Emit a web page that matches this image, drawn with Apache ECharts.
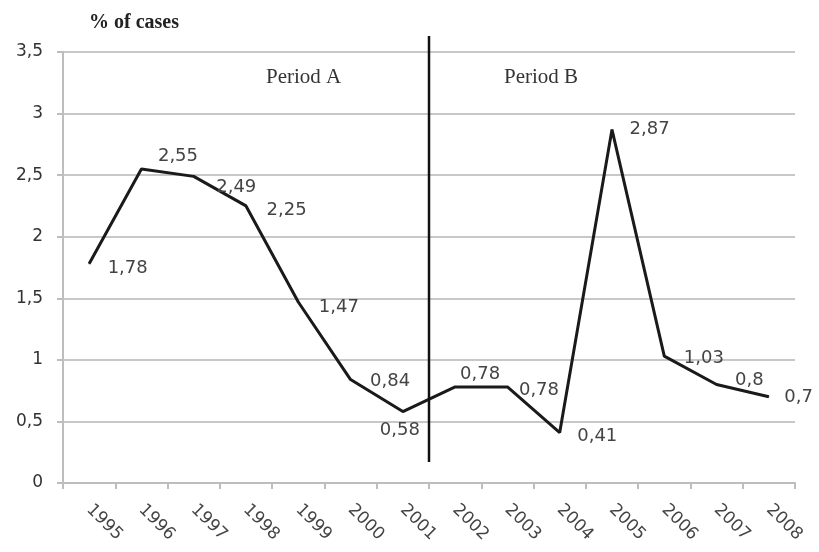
<!DOCTYPE html>
<html>
<head>
<meta charset="utf-8">
<script src="https://cdn.jsdelivr.net/npm/echarts@6/dist/echarts.min.js"></script>
<style>
  html, body { margin: 0; padding: 0; background: #ffffff; }
  #chart { width: 819px; height: 552px; }
</style>
</head>
<body>
<div id="chart"></div>
<script>
const years = ['1995', '1996', '1997', '1998', '1999', '2000', '2001',
  '2002', '2003', '2004', '2005', '2006', '2007', '2008'];
const cases = [1.78, 2.55, 2.49, 2.25, 1.47, 0.84, 0.58, 0.78, 0.78, 0.41, 2.87, 1.03, 0.8, 0.7];
// divider between period A and period B (index position on a 0..14 scale)
const dividerX = [7, 7];
const dividerY = [0.17, 3.63];
const periodNames = ['Period A', 'Period B'];

// label placement, one per point: [position, dx, dy]
const labelPlace = [
  ['right', 13, 5], ['right', 11, -13], ['right', 17, 11], ['right', 15, 4],
  ['right', 15, 5], ['right', 14, 2], ['bottom', -3, 4], ['top', 25, 2],
  ['right', 6, 3], ['right', 12, 4], ['right', 12, 0], ['right', 14, 2],
  ['right', 13, -4], ['right', 10, 1]
];

const comma = v => String(v).replace('.', ',');

const chart = echarts.init(document.getElementById('chart'));

chart.setOption({
  animation: false,
  title: [
    {
      text: '% of cases',
      left: 84, top: 8,
      textStyle: { fontFamily: 'Liberation Serif', fontWeight: 'bold', fontSize: 20, color: '#222' }
    },
    {
      text: periodNames[0],
      left: 261, top: 62,
      textStyle: { fontFamily: 'Liberation Serif', fontWeight: 'normal', fontSize: 21, color: '#333' }
    },
    {
      text: periodNames[1],
      left: 499, top: 62,
      textStyle: { fontFamily: 'Liberation Serif', fontWeight: 'normal', fontSize: 21, color: '#333' }
    }
  ],
  grid: { left: 63, right: 24, top: 52, bottom: 69 },
  xAxis: [
    {
      type: 'category',
      data: years,
      boundaryGap: true,
      axisLine: { lineStyle: { color: '#bdbdbd', width: 2 } },
      axisTick: { show: true, length: 6, lineStyle: { color: '#bdbdbd', width: 2 } },
      axisLabel: {
        rotate: -45,
        margin: 24,
        color: '#444',
        fontFamily: 'DejaVu Sans',
        fontSize: 17
      },
      splitLine: { show: false }
    },
    {
      type: 'value',
      min: 0, max: 14,
      show: false
    }
  ],
  yAxis: {
    type: 'value',
    min: 0, max: 3.5, interval: 0.5,
    axisLine: { show: true, lineStyle: { color: '#bdbdbd', width: 2 } },
    axisTick: { show: true, length: 6, lineStyle: { color: '#bdbdbd', width: 2 } },
    axisLabel: {
      margin: 20,
      color: '#333',
      fontFamily: 'DejaVu Sans',
      fontSize: 17,
      formatter: v => comma(v)
    },
    splitLine: { lineStyle: { color: '#c8c8c8', width: 2 } }
  },
  series: [
    {
      type: 'line',
      data: cases.map((v, i) => ({
        value: v,
        label: { position: labelPlace[i][0] }
      })),
      symbol: 'circle',
      symbolSize: 1,
      showSymbol: true,
      itemStyle: { color: '#1a1a1a' },
      lineStyle: { color: '#1a1a1a', width: 3 },
      label: {
        show: true,
        distance: 5,
        color: '#444',
        fontFamily: 'DejaVu Sans',
        fontSize: 18,
        formatter: p => comma(p.value)
      },
      labelLayout: p => ({
        dx: labelPlace[p.dataIndex][1],
        dy: labelPlace[p.dataIndex][2],
        hideOverlap: false
      }),
      z: 3
    },
    {
      type: 'line',
      xAxisIndex: 1,
      data: dividerX.map((x, i) => [x, dividerY[i]]),
      symbol: 'none',
      clip: false,
      lineStyle: { color: '#111', width: 2.5 },
      z: 4
    }
  ]
});
</script>
</body>
</html>
